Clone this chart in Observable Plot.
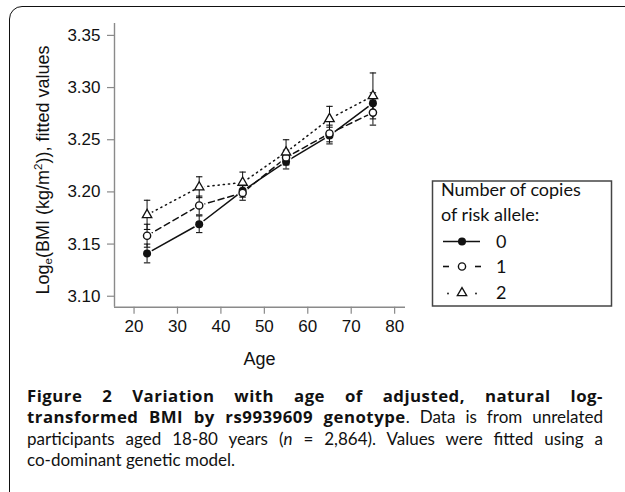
<!DOCTYPE html>
<html>
<head>
<meta charset="utf-8">
<script src="https://cdn.jsdelivr.net/npm/d3@7"></script>
<script src="https://cdn.jsdelivr.net/npm/@observablehq/plot@0.6"></script>
<style>
  html, body { margin: 0; padding: 0; background: white; overflow: hidden; }
  body { width: 625px; height: 492px; position: relative; }
  #frame { position: absolute; left: 9px; top: 6px; width: 640px; height: 520px;
    border: 1.6px solid #111; border-radius: 13px; box-sizing: border-box; }
  #chart { position: absolute; left: 0; top: 0; }
  #legend { position: absolute; left: 0; top: 0; }
  #caption { position: absolute; left: 27px; top: 385px; width: 576px;
    font-family: "Lato", sans-serif; font-size: 17px; line-height: 21.4px; color: #111; }
  #caption b { font-family: "Open Sans", sans-serif; font-weight: 700; font-size: 16.8px; letter-spacing: 0.5px; }
  #caption div { text-align: justify; text-align-last: justify; white-space: nowrap; }
  #caption div.last { text-align-last: left; }
</style>
</head>
<body>
<div id="frame"></div>
<div id="chart"></div>
<svg id="legend" width="625" height="492"></svg>
<div id="caption">
  <div><b>Figure 2 Variation with age of adjusted, natural log-</b></div>
  <div><b>transformed BMI by rs9939609 genotype</b>. Data is from unrelated</div>
  <div>participants aged 18-80 years (<i>n</i> = 2,864). Values were fitted using a</div>
  <div class="last">co-dominant genetic model.</div>
</div>
<script>
// ---- data ----
const ages = [23, 35, 45, 55, 65, 75];
const copies = ["0", "1", "2"];
const fit0 = [3.141, 3.169, 3.201, 3.229, 3.254, 3.285];
const fit1 = [3.158, 3.187, 3.199, 3.233, 3.256, 3.276];
const fit2 = [3.178, 3.2045, 3.209, 3.238, 3.270, 3.292];
const lo0 = [3.132, 3.161, 3.195, 3.222, 3.246, 3.275];
const hi0 = [3.150, 3.177, 3.207, 3.236, 3.262, 3.295];
const lo1 = [3.147, 3.178, 3.192, 3.226, 3.248, 3.264];
const hi1 = [3.169, 3.196, 3.206, 3.240, 3.264, 3.288];
const lo2 = [3.164, 3.1945, 3.199, 3.226, 3.258, 3.270];
const hi2 = [3.192, 3.2145, 3.219, 3.250, 3.282, 3.314];
const xTicks = [20, 30, 40, 50, 60, 70, 80];
const yTicks = [3.10, 3.15, 3.20, 3.25, 3.30, 3.35];

const fits = [fit0, fit1, fit2];
const los = [lo0, lo1, lo2];
const his = [hi0, hi1, hi2];
const rows = [];
copies.forEach((c, s) => ages.forEach((a, i) => rows.push({copies: c, age: a, fit: fits[s][i], lo: los[s][i], hi: his[s][i]})));
const bySeries = c => rows.filter(d => d.copies === c);

const cap = { draw(ctx, size) { const r = Math.sqrt(size / Math.PI); ctx.moveTo(-r, 0); ctx.lineTo(r, 0); } };
const axisGray = "#8a8a8a";

const plot = Plot.plot({
  width: 625, height: 380,
  marginLeft: 114, marginRight: 220, marginTop: 23, marginBottom: 73.3,
  x: {domain: [15.5, 82.5]},
  y: {domain: [3.0895, 3.3614]},
  style: {fontFamily: "'Liberation Sans', Arial, sans-serif", fontSize: "17px", background: "transparent"},
  marks: [
    Plot.ruleX([15.5], {stroke: axisGray, strokeWidth: 1.4}),
    Plot.ruleY([3.0895], {stroke: axisGray, strokeWidth: 1.4}),
    Plot.axisX({ticks: xTicks, tickSize: 7, tickPadding: 6, stroke: axisGray, fill: "#111", label: null, strokeWidth: 1.2}),
    Plot.axisY({ticks: yTicks, tickFormat: d => d.toFixed(2), tickSize: 7, tickPadding: 7, stroke: axisGray, fill: "#111", label: null, strokeWidth: 1.2}),
    Plot.line(bySeries("0"), {x: "age", y: "fit", stroke: "#111", strokeWidth: 1.5}),
    Plot.line(bySeries("1"), {x: "age", y: "fit", stroke: "#111", strokeWidth: 1.5, strokeDasharray: "6,4"}),
    Plot.line(bySeries("2"), {x: "age", y: "fit", stroke: "#111", strokeWidth: 1.5, strokeDasharray: "1.2,4", strokeLinecap: "round"}),
    Plot.dot(rows, {x: "age", y: "fit", r: 5.5, fill: "white", stroke: "none"}),
    Plot.ruleX(rows, {x: "age", y1: "lo", y2: "hi", stroke: "#111", strokeWidth: 1}),
    Plot.dot(rows, {x: "age", y: "lo", symbol: cap, r: 3.2, stroke: "#111", strokeWidth: 1.1}),
    Plot.dot(rows, {x: "age", y: "hi", symbol: cap, r: 3.2, stroke: "#111", strokeWidth: 1.1}),
    Plot.dot(bySeries("0"), {x: "age", y: "fit", r: 4, fill: "#111", stroke: "none"}),
    Plot.dot(bySeries("1"), {x: "age", y: "fit", r: 3.6, fill: "white", stroke: "#111", strokeWidth: 1.4}),
    Plot.dot(bySeries("2"), {x: "age", y: "fit", symbol: "triangle", r: 3.5, fill: "white", stroke: "#111", strokeWidth: 1.3})
  ]
});
document.getElementById("chart").appendChild(plot);

const svg = d3.select(plot);
svg.append("text").attr("x", 259.5).attr("y", 365).attr("text-anchor", "middle")
  .attr("font-size", 18).attr("fill", "#111").text("Age");
const yl = svg.append("text").attr("transform", "translate(49,170) rotate(-90)")
  .attr("text-anchor", "middle").attr("font-size", 18).attr("fill", "#111");
yl.append("tspan").text("Log");
yl.append("tspan").attr("font-size", 11.5).attr("dy", 3).text("e");
yl.append("tspan").attr("dy", -3).text("(BMI (kg/m");
yl.append("tspan").attr("font-size", 11.5).attr("dy", -7).text("2");
yl.append("tspan").attr("dy", 7).text(")), fitted values");

// ---- legend ----
const lg = d3.select("#legend");
const L = lg.append("g").attr("font-family", "'Lato', sans-serif").attr("font-size", 18).attr("fill", "#111");
L.append("rect").attr("x", 432.5).attr("y", 181).attr("width", 179).attr("height", 125)
  .attr("fill", "white").attr("stroke", "#444").attr("stroke-width", 1.5);
L.append("text").attr("x", 441).attr("y", 196).text("Number of copies");
L.append("text").attr("x", 441).attr("y", 221).text("of risk allele:");
const rowY = [241.5, 266.5, 292.5];
copies.forEach((c, i) => {
  L.append("text").attr("x", 496).attr("y", rowY[i] + 6).text(c);
});
L.append("line").attr("x1", 443).attr("x2", 480).attr("y1", rowY[0]).attr("y2", rowY[0]).attr("stroke", "#111").attr("stroke-width", 1.6);
L.append("circle").attr("cx", 462).attr("cy", rowY[0]).attr("r", 4).attr("fill", "#111");
L.append("line").attr("x1", 443).attr("x2", 449).attr("y1", rowY[1]).attr("y2", rowY[1]).attr("stroke", "#111").attr("stroke-width", 1.6);
L.append("line").attr("x1", 475).attr("x2", 481).attr("y1", rowY[1]).attr("y2", rowY[1]).attr("stroke", "#111").attr("stroke-width", 1.6);
L.append("circle").attr("cx", 462).attr("cy", rowY[1]).attr("r", 3.6).attr("fill", "white").attr("stroke", "#111").attr("stroke-width", 1.4);
L.append("circle").attr("cx", 448).attr("cy", rowY[2] + 1).attr("r", 0.9).attr("fill", "#111");
L.append("circle").attr("cx", 476).attr("cy", rowY[2] + 1).attr("r", 0.9).attr("fill", "#111");
L.append("path").attr("d", d3.symbol(d3.symbolTriangle, Math.PI * 3.5 * 3.5)()).attr("transform", `translate(462,${rowY[2] + 0.5})`)
  .attr("fill", "white").attr("stroke", "#111").attr("stroke-width", 1.3);
</script>
</body>
</html>
